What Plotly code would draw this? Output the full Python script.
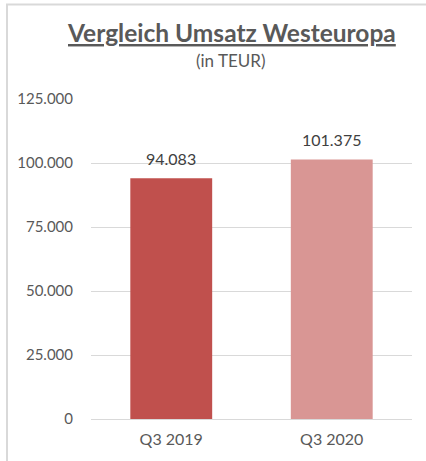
import plotly.graph_objects as go

categories = ["Q3 2019", "Q3 2020"]
values = [94083, 101375]
bar_colors = ["#C0504D", "#D99694"]
tick_vals = [0, 25000, 50000, 75000, 100000, 125000]

W, H = 426, 461
L, R, T, B = 91, 14, 99, 42
pw = W - L - R
ph = H - T - B
FONT = "Lato, Open Sans, sans-serif"

def px_x(x):
    return (x - L) / pw

def px_y(y):
    return (H - B - y) / ph

fig = go.Figure()
fig.add_trace(go.Bar(
    x=categories, y=values,
    marker=dict(color=bar_colors, line=dict(width=0)),
    hoverinfo="skip",
))

label_annots = [
    dict(x=c, y=v, xref="x", yref="y", text=f"{v:,d}".replace(",", "."),
         showarrow=False, xanchor="center", yanchor="bottom", yshift=8,
         font=dict(family=FONT, size=16, color="#404040"))
    for c, v in zip(categories, values)
]

fig.update_layout(
    width=W, height=H,
    margin=dict(l=L, r=R, t=T, b=B),
    paper_bgcolor="white", plot_bgcolor="white",
    separators=",.",
    bargap=0.49,
    showlegend=False,
    font=dict(family=FONT, color="#595959"),
    xaxis=dict(
        showgrid=False, showline=True, linecolor="#D9D9D9", linewidth=1,
        ticks="outside", ticklen=6, tickcolor="rgba(0,0,0,0)",
        tickfont=dict(size=16, color="#595959"),
    ),
    yaxis=dict(
        range=[0, 125000], tickvals=tick_vals, tickformat=",d",
        showgrid=True, gridcolor="#D9D9D9", gridwidth=1,
        zeroline=False, showline=False,
        ticks="outside", ticklen=14, tickcolor="rgba(0,0,0,0)",
        tickfont=dict(size=15, color="#595959"),
    ),
    annotations=[
        dict(text="<u><b>Vergleich Umsatz Westeuropa</b></u>", xref="paper", yref="paper",
             x=px_x(231), y=px_y(33), xanchor="center", yanchor="middle", showarrow=False,
             font=dict(size=24.5, color="#595959", family=FONT)),
        dict(text="(in TEUR)", xref="paper", yref="paper",
             x=px_x(231), y=px_y(60), xanchor="center", yanchor="middle", showarrow=False,
             font=dict(size=17, color="#595959", family=FONT)),
    ] + label_annots,
    shapes=[
        dict(type="line", xref="paper", yref="paper", x0=px_x(7), x1=px_x(7), y0=px_y(4), y1=px_y(461),
             line=dict(color="#D9D9D9", width=2)),
        dict(type="line", xref="paper", yref="paper", x0=px_x(6), x1=px_x(426), y0=px_y(4.5), y1=px_y(4.5),
             line=dict(color="#D9D9D9", width=2)),
    ],
)

fig.write_html("out.html", config={"displayModeBar": False},
               post_script="document.body.style.margin='0';document.body.style.overflow='hidden';")
